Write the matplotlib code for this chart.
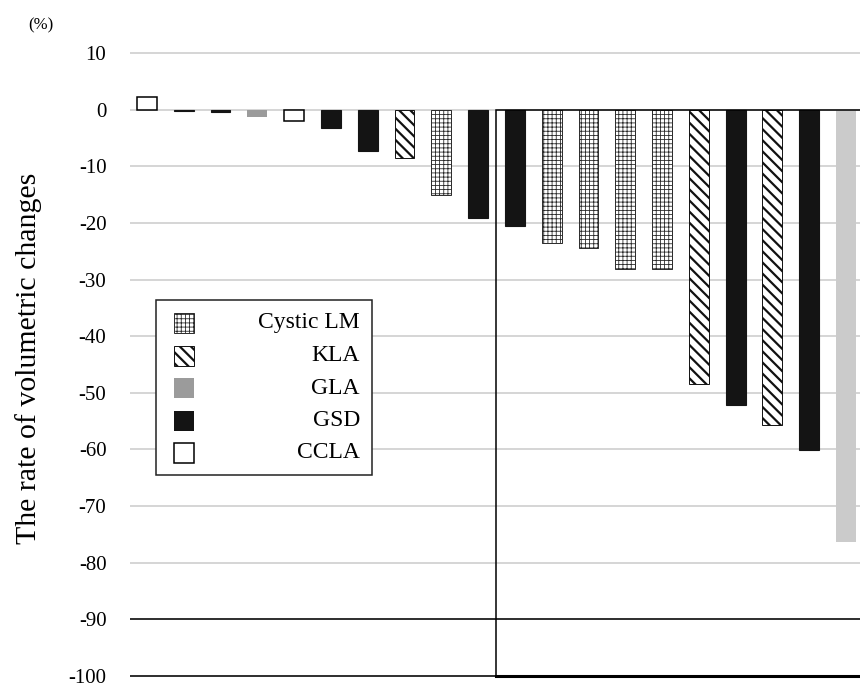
import matplotlib
matplotlib.use("Agg")
import matplotlib.pyplot as plt
from matplotlib.patches import Rectangle


# ----------------------------
# Data
# ----------------------------

bar_types = [
    "CCLA", "GSD", "GSD", "GLA", "CCLA", "GSD", "GSD", "KLA", "Cystic LM", "GSD",
    "GSD", "Cystic LM", "Cystic LM", "Cystic LM", "Cystic LM", "KLA", "GSD", "KLA", "GSD", "Other",
]
bar_values = [
    2.2, -0.15, -0.4, -1.2, -2.0, -3.2, -7.3, -8.5, -15.1, -19.2,
    -20.6, -23.5, -24.5, -28.2, -28.2, -48.4, -52.2, -55.6, -60.1, -76.4,
]
y_ticks = list(range(10, -101, -10))
legend_labels = ["Cystic LM", "KLA", "GLA", "GSD", "CCLA"]


# ----------------------------
# Styles
# ----------------------------

plt.rcParams["font.family"] = ["Liberation Serif", "DejaVu Serif"]

styles = {
    "Cystic LM": dict(facecolor="white", edgecolor="#2a2a2a", hatch="++++", linewidth=0.7, hlw=0.6),
    "KLA":       dict(facecolor="white", edgecolor="#111111", hatch="\\\\\\", linewidth=0.7, hlw=1.6),
    "GLA":       dict(facecolor="#9b9b9b", edgecolor="#9b9b9b", hatch=None, linewidth=0.0, hlw=1.0),
    "GSD":       dict(facecolor="#141414", edgecolor="#141414", hatch=None, linewidth=0.8, hlw=1.0),
    "CCLA":      dict(facecolor="white", edgecolor="black", hatch=None, linewidth=1.1, hlw=1.0),
    "Other":     dict(facecolor="#cbcbcb", edgecolor="#cbcbcb", hatch=None, linewidth=0.0, hlw=1.0),
}


def apply_style(patch, name):
    st = styles[name]
    patch.set_facecolor(st["facecolor"])
    patch.set_edgecolor(st["edgecolor"])
    patch.set_linewidth(st["linewidth"])
    if st["hatch"]:
        patch.set_hatch(st["hatch"])
        if hasattr(patch, "set_hatch_linewidth"):
            patch.set_hatch_linewidth(st["hlw"])


# ----------------------------
# Figure
# ----------------------------

W, H = 860, 687
fig = plt.figure(figsize=(W / 100, H / 100), dpi=100)
ax = fig.add_axes([130 / W, 1 - 681.5 / H, 730 / W, (681.5 - 47.5) / H])

x = list(range(len(bar_values)))
bars = ax.bar(x, bar_values, width=0.54, zorder=3)
for b, t in zip(bars, bar_types):
    apply_style(b, t)

# grid lines
for v in y_ticks:
    ax.axhline(v, color="#d2d2d2", lw=1.3, zorder=0)
ax.axhline(-90, color="black", lw=1.1, zorder=4)
ax.axhline(-100, color="black", lw=1.1, zorder=4)

# box around the right group
ax.add_patch(Rectangle((9.5, -100), 20, 100, fill=False, edgecolor="black", lw=1.1, zorder=4))
ax.plot([9.5, 20], [-100, -100], color="black", lw=2.2, zorder=4)

ax.set_xlim(-0.46, 19.38)
ax.set_ylim(-101, 11)
ax.set_xticks([])
ax.set_yticks(y_ticks)
ax.set_yticklabels([str(v) for v in y_ticks], fontsize=15)
ax.tick_params(axis="y", length=0, pad=17)
for s in ax.spines.values():
    s.set_visible(False)

ax.set_ylabel("The rate of volumetric changes", fontsize=21.5)
ax.yaxis.set_label_coords(-0.12, 0.51)
fig.text(28 / W, 1 - 25 / H, "(%)", fontsize=12, va="center", ha="left")


# ----------------------------
# Legend (drawn by hand so labels are right aligned)
# ----------------------------

fig.patches.append(Rectangle((156 / W, 1 - 475 / H), 216 / W, 175 / H, transform=fig.transFigure,
                             facecolor="white", edgecolor="#222222", lw=1.1, zorder=5))
row_y = [323, 355.5, 388, 420.5, 453]
for lab, ry in zip(legend_labels, row_y):
    p = Rectangle((174 / W, 1 - (ry + 10) / H), 20 / W, 20 / H, transform=fig.transFigure, zorder=6)
    apply_style(p, lab)
    if lab in ("GLA", "GSD"):
        p.set_linewidth(0)
    fig.patches.append(p)
    fig.text(360 / W, 1 - ry / H, lab, fontsize=17, ha="right", va="center", zorder=7)

fig.savefig("out.png", dpi=100)
